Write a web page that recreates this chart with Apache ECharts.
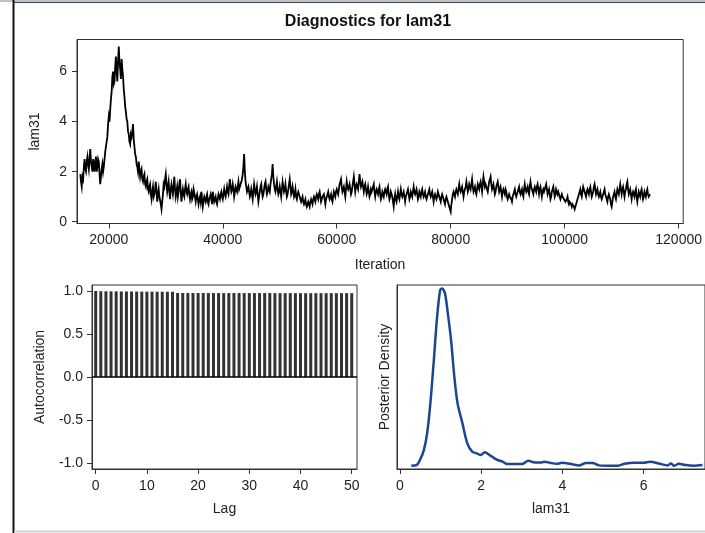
<!DOCTYPE html>
<html><head><meta charset="utf-8">
<script src="https://cdn.jsdelivr.net/npm/echarts@6/dist/echarts.min.js"></script>
<style>html,body{margin:0;padding:0;background:#fff}#c{width:705px;height:533px}</style>
</head><body><div id="c"></div>
<script>
// ---------- data ----------
const traceStart = 15000;
const traceStep = 125;
const traceValues = [
  1.9,1.6,1.4,1.8,1.7,2.2,2.5,2.1,2.0,2.4,2.6,2.3,2.1,2.5,2.9,2.4,2.2,2.0,2.5,2.3,2.0,2.4,2.6,2.0,2.2,2.5,2.4,1.9,1.5,1.8,2.1,2.3,2.0,2.2,2.5,2.8,3.0,3.2,3.4,3.9,
  4.2,4.0,4.5,4.9,5.2,5.8,6.0,5.5,5.6,6.2,6.6,6.0,5.6,6.4,7.0,6.4,6.1,5.7,6.5,6.1,5.8,5.3,5.0,4.6,4.4,4.1,4.0,3.6,3.5,3.2,3.1,3.5,3.4,3.6,3.9,3.3,3.0,2.7,2.6,2.3,
  2.2,2.0,2.4,2.1,1.8,2.0,2.1,1.7,1.6,1.8,1.9,1.5,1.4,1.6,1.7,1.3,1.2,1.4,1.5,1.1,0.9,1.2,1.4,1.0,1.1,1.3,1.6,1.2,0.8,1.1,1.3,1.0,1.0,0.7,0.5,0.8,1.1,1.5,1.4,1.7,
  1.9,1.5,1.2,1.4,1.6,1.2,0.9,1.3,1.5,1.3,1.1,1.4,1.8,1.3,1.0,1.2,1.4,1.0,1.2,1.5,1.7,1.2,0.8,1.1,1.3,1.1,1.0,1.3,1.5,1.2,1.1,1.3,1.4,1.1,0.9,1.1,1.2,0.9,1.0,1.3,
  1.3,1.0,0.8,1.0,1.1,0.9,0.7,0.9,1.0,0.8,1.2,0.9,0.6,0.8,1.0,0.9,0.8,1.0,1.1,0.8,0.7,0.9,1.0,1.1,0.9,0.7,1.2,1.0,0.8,0.9,1.0,0.8,0.7,0.9,1.1,1.0,0.9,1.1,1.2,1.0,
  0.9,1.1,1.3,1.1,1.0,1.2,1.4,1.2,1.1,1.4,1.7,1.4,1.2,1.3,1.5,1.3,1.0,1.2,1.4,1.3,1.2,1.4,1.6,1.3,1.3,1.5,1.5,1.7,1.9,2.2,2.7,2.0,1.6,1.4,1.2,1.3,1.4,1.2,1.0,1.1,
  1.3,1.1,0.9,1.2,1.5,1.3,1.1,1.2,1.4,1.1,0.8,1.0,1.2,1.4,1.5,1.2,1.0,1.1,1.3,1.5,1.6,1.3,1.1,1.2,1.4,1.3,1.2,1.5,1.7,1.9,2.3,1.8,1.5,1.3,1.2,1.4,1.6,1.3,1.1,1.2,
  1.4,1.2,1.0,1.3,1.6,1.4,1.2,1.3,1.5,1.2,1.0,1.1,1.3,1.5,1.7,1.4,1.1,1.2,1.4,1.2,1.0,1.1,1.3,1.0,0.9,1.1,1.2,1.1,1.0,0.9,0.8,0.9,1.0,0.8,0.7,0.8,0.9,0.7,0.6,0.7,
  0.8,0.7,0.6,0.8,0.9,0.8,0.7,0.9,1.0,0.9,0.8,1.0,1.1,1.0,0.9,1.1,1.2,1.0,0.8,0.9,1.0,1.0,1.1,0.9,0.7,0.9,1.0,1.1,1.2,1.0,0.9,1.0,1.1,0.9,0.8,1.0,1.2,1.1,1.0,1.2,
  1.3,1.2,1.1,1.3,1.5,1.6,1.7,1.4,1.2,1.3,1.4,1.2,1.0,1.3,1.6,1.4,1.3,1.4,1.5,1.3,1.1,1.2,1.4,1.6,1.8,1.5,1.2,1.4,1.5,1.4,1.3,1.6,1.9,1.6,1.4,1.5,1.6,1.4,1.2,1.4,
  1.5,1.3,1.1,1.2,1.4,1.2,1.0,1.1,1.3,1.2,1.2,1.4,1.5,1.2,1.0,1.2,1.3,1.2,1.1,1.3,1.4,1.1,0.9,1.0,1.2,1.1,1.0,1.2,1.3,1.2,1.1,1.3,1.4,1.1,0.9,1.0,1.2,1.1,1.0,0.8,
  0.6,0.9,1.1,0.9,0.8,1.0,1.2,1.0,0.9,1.1,1.3,1.1,1.0,1.1,1.2,1.0,0.8,1.0,1.1,1.2,1.3,1.1,0.9,1.0,1.2,1.1,1.0,1.2,1.4,1.2,1.1,1.2,1.3,1.1,0.9,1.0,1.2,1.1,1.0,1.2,
  1.3,1.1,1.0,1.1,1.2,1.0,0.9,1.0,1.1,1.2,1.3,1.1,1.0,1.1,1.2,1.0,0.8,1.0,1.1,1.0,0.9,1.0,1.2,1.1,1.0,0.9,0.8,1.0,1.1,1.0,0.9,0.8,0.7,0.9,1.0,0.9,0.8,0.7,0.6,0.5,
  0.4,0.7,0.9,1.1,1.2,1.1,1.0,1.2,1.3,1.2,1.1,1.3,1.5,1.3,1.2,1.3,1.4,1.2,1.0,1.2,1.3,1.4,1.6,1.4,1.2,1.3,1.5,1.4,1.3,1.5,1.7,1.4,1.2,1.3,1.4,1.2,1.1,1.3,1.5,1.4,
  1.3,1.5,1.6,1.4,1.2,1.5,1.8,1.6,1.4,1.5,1.5,1.3,1.2,1.4,1.6,1.7,1.8,1.5,1.3,1.4,1.5,1.3,1.1,1.2,1.4,1.5,1.6,1.4,1.2,1.3,1.4,1.2,1.0,1.2,1.3,1.2,1.1,1.3,1.2,1.0,
  0.9,1.0,1.1,1.0,1.0,0.9,0.8,1.0,1.1,1.2,1.3,1.1,1.0,1.1,1.2,1.3,1.4,1.2,1.1,1.2,1.3,1.1,1.0,1.3,1.5,1.3,1.2,1.3,1.4,1.2,1.1,1.4,1.6,1.4,1.3,1.2,1.1,1.3,1.4,1.3,
  1.2,1.4,1.5,1.3,1.1,1.3,1.4,1.2,1.0,1.2,1.3,1.2,1.2,1.4,1.5,1.3,1.1,1.2,1.3,1.1,0.9,1.0,1.2,1.3,1.4,1.2,1.0,1.1,1.3,1.2,1.1,1.2,1.2,1.0,0.9,1.0,1.1,1.0,1.0,0.9,
  0.9,0.8,0.8,0.9,1.0,0.8,0.7,0.8,0.8,0.7,0.6,0.7,0.7,0.6,0.5,0.6,0.6,0.8,0.9,1.0,1.1,1.2,1.3,1.1,1.0,1.2,1.4,1.3,1.2,1.1,1.0,1.2,1.3,1.2,1.1,1.3,1.4,1.2,1.0,1.1,
  1.2,1.4,1.5,1.3,1.1,1.2,1.3,1.1,1.0,1.1,1.2,1.0,0.9,1.0,1.1,1.2,1.3,1.1,1.0,0.9,0.8,1.0,1.1,1.0,0.9,0.7,0.6,0.8,1.0,1.1,1.2,1.0,0.9,1.1,1.3,1.2,1.1,1.3,1.5,1.3,
  1.1,1.3,1.4,1.2,1.0,1.2,1.3,1.5,1.6,1.3,1.1,1.2,1.3,1.1,0.9,1.1,1.2,1.1,1.0,1.2,1.3,1.0,0.8,1.0,1.2,1.1,1.0,1.2,1.3,1.1,0.9,1.0,1.2,1.1,1.0,1.2,1.3,1.1,1.0,1.0,
  1.1
];
const iterationTicks = [20000,40000,60000,80000,100000,120000];
const traceYTicks = [0,2,4,6];

const lags = [0,1,2,3,4,5,6,7,8,9,10,11,12,13,14,15,16,17,18,19,20,21,22,23,24,25,
  26,27,28,29,30,31,32,33,34,35,36,37,38,39,40,41,42,43,44,45,46,47,48,49,50];
const acfValues = [1.0,0.998,0.997,0.996,0.996,0.995,0.995,0.994,0.994,0.993,0.993,
  0.993,0.992,0.992,0.992,0.991,0.977,0.977,0.977,0.977,0.977,0.977,0.977,0.976,0.976,
  0.976,0.976,0.976,0.976,0.976,0.976,0.976,0.976,0.976,0.976,0.975,0.975,0.975,0.975,
  0.975,0.975,0.975,0.975,0.975,0.975,0.975,0.975,0.975,0.975,0.975,0.975];
const lagTicks = [0,10,20,30,40,50];
const acfTicks = [-1,-0.5,0,0.5,1];

const densityX = [0.28,0.41,0.51,0.59,0.67,0.75,0.83,0.91,0.99,1.04,1.11,1.18,1.26,1.34,1.42,
  1.54,1.66,1.78,1.89,1.99,2.09,2.21,2.37,2.53,2.64,2.84,3.0,3.16,3.32,3.48,3.55,3.71,3.87,
  3.99,4.19,4.42,4.58,4.74,4.9,5.14,5.37,5.53,5.77,6.0,6.16,6.4,6.59,6.67,6.75,6.87,7.03,7.23,7.45];
const densityY = [0,0.004,0.045,0.097,0.2,0.387,0.636,0.905,1.09,1.1,1.07,0.946,0.78,0.553,0.387,
  0.263,0.139,0.087,0.077,0.066,0.083,0.066,0.039,0.025,0.01,0.01,0.01,0.031,0.02,0.02,0.025,0.017,0.012,
  0.019,0.012,0.002,0.017,0.017,0.002,0.0,0,0.012,0.019,0.019,0.025,0.012,0.002,0.014,0,0.012,0.004,0,0.004];
const densityTicks = [0,2,4,6];

// ---------- chart ----------
const FONT = 'Liberation Sans, Arial, sans-serif';
const AXC = '#333';
const tickLabel = {color:'#222', fontFamily:FONT, fontSize:14};
const nameStyle = {color:'#222', fontFamily:FONT, fontSize:14};
function valueAxis(o){
  return Object.assign({
    type:'value', splitLine:{show:false},
    axisLine:{show:true, onZero:false, lineStyle:{color:AXC, width:1}},
    axisTick:{show:true, inside:false, length:5, lineStyle:{color:AXC}},
    nameTextStyle:nameStyle, nameLocation:'middle'
  }, o);
}
const traceData = traceValues.map((v,i)=>[traceStart + i*traceStep, v]);
const acfData = lags.map((l,i)=>[l, acfValues[i]]);
const densData = densityX.map((x,i)=>[x, densityY[i]]);

const chart = echarts.init(document.getElementById('c'), null, {renderer:'canvas'});
chart.setOption({
  animation:false,
  backgroundColor:'#fff',
  grid:[
    {left:77, top:39.5, width:616, height:184, show:true, borderColor:AXC, borderWidth:1, containLabel:false},
    {left:92, top:285, width:265, height:184, show:true, borderColor:AXC, borderWidth:1, containLabel:false},
    {left:397, top:285, width:320, height:184, show:true, borderColor:AXC, borderWidth:1, containLabel:false}
  ],
  xAxis:[
    valueAxis({gridIndex:0, min:14420, max:120800, name:'Iteration', nameGap:35,
      axisLabel:Object.assign({customValues:iterationTicks, margin:10, formatter:v=>String(v)}, tickLabel),
      axisTick:{show:true, length:5, customValues:iterationTicks, lineStyle:{color:AXC}}}),
    valueAxis({gridIndex:1, min:-0.72, max:51.03, name:'Lag', nameGap:33,
      axisLabel:Object.assign({customValues:lagTicks, margin:10, formatter:v=>String(v)}, tickLabel),
      axisTick:{show:true, length:5, customValues:lagTicks, lineStyle:{color:AXC}}}),
    valueAxis({gridIndex:2, min:-0.071, max:7.51, name:'lam31', nameGap:33,
      axisLabel:Object.assign({customValues:densityTicks, margin:10, formatter:v=>String(v)}, tickLabel),
      axisTick:{show:true, length:5, customValues:densityTicks, lineStyle:{color:AXC}}})
  ],
  yAxis:[
    valueAxis({gridIndex:0, min:-0.07, max:7.28, name:'lam31', nameGap:35,
      axisLabel:Object.assign({customValues:traceYTicks, margin:10, formatter:v=>String(v)}, tickLabel),
      axisTick:{show:true, length:5, customValues:traceYTicks, lineStyle:{color:AXC}}}),
    valueAxis({gridIndex:1, min:-1.07, max:1.07, name:'Autocorrelation', nameGap:45,
      axisLabel:Object.assign({customValues:acfTicks, margin:9, formatter:v=>Number(v).toFixed(1)}, tickLabel),
      axisTick:{show:true, length:5, customValues:acfTicks, lineStyle:{color:AXC}}}),
    valueAxis({gridIndex:2, min:-0.0205, max:1.122, name:'Posterior Density', nameGap:5,
      axisLabel:{show:false}, axisTick:{show:false}})
  ],
  series:[
    {type:'line', xAxisIndex:0, yAxisIndex:0, data:traceData, showSymbol:false, symbol:'none',
      lineStyle:{color:'#000', width:1.8, join:'miter'}, clip:true},
    {type:'bar', xAxisIndex:1, yAxisIndex:1, data:acfData, barWidth:3,
      itemStyle:{color:'#333'},
      markLine:{silent:true, symbol:'none', label:{show:false},
        lineStyle:{color:'#000', width:1.5, type:'solid'}, data:[{yAxis:0}]}},
    {type:'line', xAxisIndex:2, yAxisIndex:2, data:densData, showSymbol:false, symbol:'none',
      smooth:0.3, lineStyle:{color:'#1d4690', width:2.5}, clip:true}
  ],
  graphic:[
    {type:'rect', silent:true, shape:{x:0,y:0,width:705,height:2}, style:{fill:'#b9c2ce'}},
    {type:'line', silent:true, shape:{x1:13,y1:2.5,x2:705,y2:2.5}, style:{stroke:'#444', lineWidth:1}},
    {type:'line', silent:true, shape:{x1:13.5,y1:0,x2:13.5,y2:533}, style:{stroke:'#111', lineWidth:2}},
    {type:'line', silent:true, shape:{x1:14,y1:531.5,x2:705,y2:531.5}, style:{stroke:'#d4d4d4', lineWidth:2}},
    {type:'text', silent:true, style:{text:'Diagnostics for lam31', x:368, y:22, align:'center',
      verticalAlign:'middle', font:'bold 16px Liberation Sans, Arial, sans-serif', fill:'#111'}}
  ]
});
</script></body></html>
